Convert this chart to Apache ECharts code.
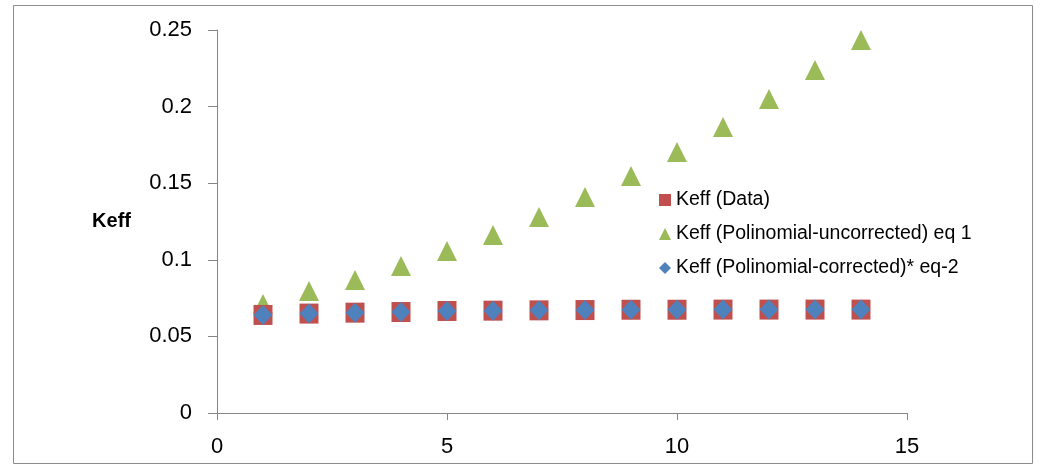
<!DOCTYPE html>
<html>
<head>
<meta charset="utf-8">
<script src="https://cdn.jsdelivr.net/npm/echarts@6/dist/echarts.min.js"></script>
<style>
  html, body { margin: 0; padding: 0; background: #ffffff; }
  #chart { width: 1041px; height: 466px; }
</style>
</head>
<body>
<div id="chart"></div>
<script>
// Step index along the x axis
const steps = [1, 2, 3, 4, 5, 6, 7, 8, 9, 10, 11, 12, 13, 14];

// Keff values per series
const keffData = [0.0640, 0.0649, 0.0655, 0.0659, 0.0666, 0.0668, 0.0670, 0.0672, 0.0674, 0.0674, 0.0675, 0.0675, 0.0675, 0.0675];
const keffUncorrected = [0.0711, 0.0796, 0.0868, 0.0960, 0.1057, 0.1162, 0.1279, 0.1410, 0.1547, 0.1704, 0.1867, 0.2050, 0.2239, 0.2435];
const keffCorrected = [0.0640, 0.0649, 0.0655, 0.0659, 0.0666, 0.0668, 0.0670, 0.0672, 0.0674, 0.0674, 0.0675, 0.0675, 0.0675, 0.0675];

const seriesNames = [
  'Keff (Data)',
  'Keff (Polinomial-uncorrected) eq 1',
  'Keff (Polinomial-corrected)* eq-2'
];

const pairs = (ys) => steps.map((x, i) => [x, ys[i]]);

const FONT = '"Liberation Sans", Arial, sans-serif';
const AXIS_GREY = '#868686';

const chart = echarts.init(document.getElementById('chart'), null, { renderer: 'canvas' });

chart.setOption({
  backgroundColor: '#ffffff',
  animation: false,
  textStyle: { fontFamily: FONT, color: '#000000' },
  grid: { left: 217, right: 134, top: 30, bottom: 53, containLabel: false },
  graphic: [{
    type: 'rect',
    shape: { x: 13.5, y: 5.5, width: 1019, height: 458 },
    style: { fill: 'none', stroke: '#8c8c8c', lineWidth: 1 },
    silent: true
  }],
  legend: {
    orient: 'vertical',
    left: 654,
    top: 185,
    itemWidth: 12,
    itemHeight: 12,
    itemGap: 14,
    textStyle: { fontFamily: FONT, fontSize: 19.5, color: '#000000', padding: [0, 0, 0, 0] },
    data: seriesNames
  },
  xAxis: {
    type: 'value',
    min: 0,
    max: 15,
    interval: 5,
    splitLine: { show: false },
    axisLine: { lineStyle: { color: AXIS_GREY, width: 1 } },
    axisTick: { show: true, length: 7, lineStyle: { color: AXIS_GREY } },
    axisLabel: { fontFamily: FONT, fontSize: 22, color: '#000000', margin: 23 }
  },
  yAxis: {
    type: 'value',
    min: 0,
    max: 0.25,
    interval: 0.05,
    name: 'Keff',
    nameLocation: 'middle',
    nameRotate: 0,
    nameGap: 86,
    nameTextStyle: { fontFamily: FONT, fontSize: 20, fontWeight: 'bold', color: '#000000' },
    splitLine: { show: false },
    axisLine: { show: true, lineStyle: { color: AXIS_GREY, width: 1 } },
    axisTick: { show: true, length: 9, lineStyle: { color: AXIS_GREY } },
    axisLabel: { fontFamily: FONT, fontSize: 22, color: '#000000', margin: 25 }
  },
  series: [
    {
      name: seriesNames[0],
      type: 'scatter',
      z: 3,
      symbol: 'rect',
      symbolSize: [19, 20],
      itemStyle: { color: '#C0504D', opacity: 1 },
      data: pairs(keffData)
    },
    {
      name: seriesNames[1],
      type: 'scatter',
      z: 2,
      symbol: 'triangle',
      symbolSize: [20, 20],
      itemStyle: { color: '#9BBB59', opacity: 1 },
      data: pairs(keffUncorrected)
    },
    {
      name: seriesNames[2],
      type: 'scatter',
      z: 4,
      symbol: 'diamond',
      symbolSize: [19, 20],
      itemStyle: { color: '#4F81BD', opacity: 1 },
      data: pairs(keffCorrected)
    }
  ]
});
</script>
</body>
</html>
